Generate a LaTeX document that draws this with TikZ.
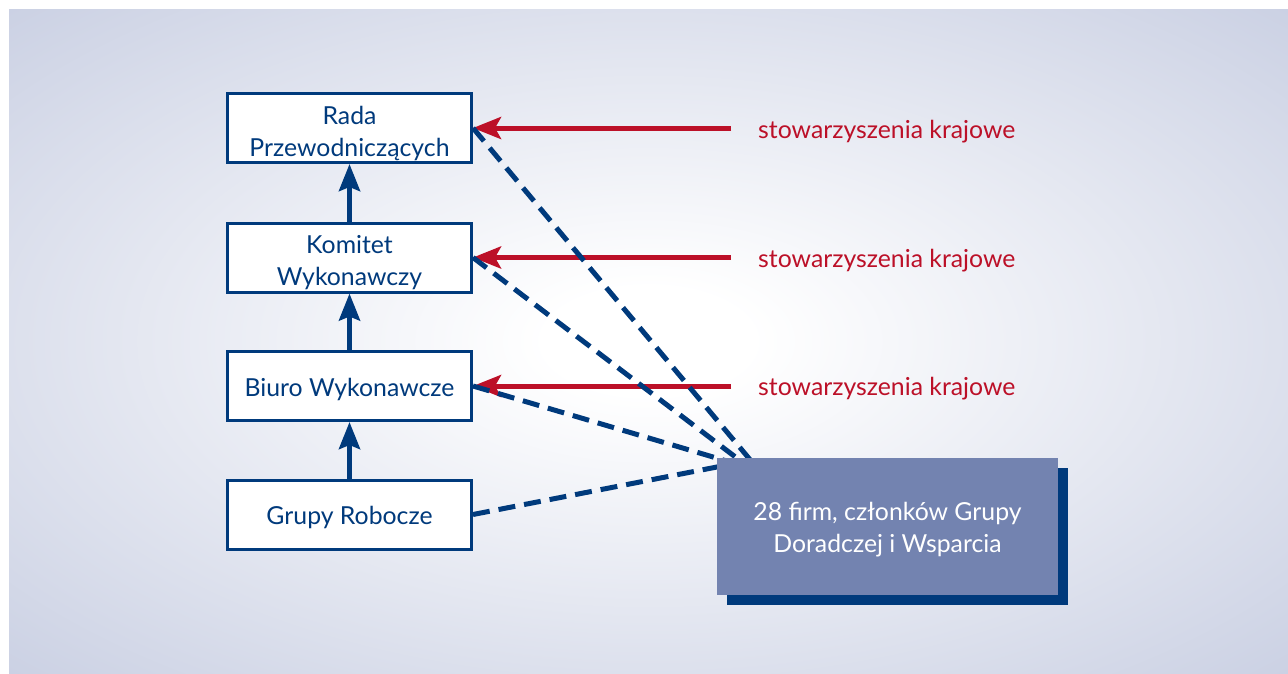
\documentclass[tikz,border=0pt]{standalone}
\usepackage{fontspec}
\setmainfont{Lato}
\usetikzlibrary{arrows.meta,calc,shadows}

\definecolor{navy}{RGB}{0,58,124}
\definecolor{crimson}{RGB}{188,16,40}
\definecolor{slate}{RGB}{115,131,176}
\definecolor{bgedge}{RGB}{202,208,227}

% soft glow behind the chart: white in the middle, blue-grey towards the corners
\pgfdeclareradialshading{bgglow}{\pgfpoint{0bp}{0bp}}{%
  color(0bp)=(white); color(4bp)=(white); color(36bp)=(bgedge); color(50bp)=(bgedge)}

\tikzset{
  orgbox/.style={draw=navy, line width=3pt, fill=white, minimum width=244pt,
    minimum height=69pt, inner sep=0pt},
  orgtext/.style={text=navy, align=center, font=\fontsize{24.8}{32}\selectfont, inner sep=0pt},
  uplink/.style={draw=navy, line width=5pt, -{Stealth[length=27pt, width=21pt, inset=4pt]}},
  assoc/.style={text=crimson, font=\fontsize{24.8}{32}\selectfont, inner sep=0pt, anchor=base west},
  assocarrow/.style={draw=crimson, line width=5pt, -{Stealth[length=28pt, width=22pt, inset=6pt]}},
  advisory/.style={draw=navy, line width=5pt, dash pattern=on 17pt off 9pt},
  firmbox/.style={fill=slate, minimum width=341pt, minimum height=137pt, inner sep=0pt,
    drop shadow={shadow xshift=10pt, shadow yshift=-10pt, fill=navy, opacity=1}},
  firmtext/.style={text=white, align=center, font=\fontsize{24.8}{32}\selectfont, inner sep=0pt},
}

\begin{document}
\begin{tikzpicture}[x=1pt, y=-1pt]
\useasboundingbox (0,0) rectangle (1288,673);
\shade[shading=bgglow] (9,9) rectangle (1288,673);

% governance chain
\node[orgbox, label={[orgtext, yshift=-5pt]center:Rada\\Przewodniczących}] (rada) at (349.5,128) {};
\node[orgbox, label={[orgtext, yshift=-5pt]center:Komitet\\Wykonawczy}] (komitet) at (349.5,257.5) {};
\node[orgbox, label={[orgtext, yshift=-3pt]center:Biuro Wykonawcze}] (biuro) at (349.5,386) {};
\node[orgbox, label={[orgtext, yshift=-3pt]center:Grupy Robocze}] (grupy) at (349.5,514.5) {};

\draw[uplink] (komitet.north) -- (rada.south);
\draw[uplink] (biuro.north) -- (komitet.south);
\draw[uplink] (grupy.north) -- (biuro.south);

% national associations
\node[assoc] (assoc1) at (758,138) {stowarzyszenia krajowe};
\node[assoc] (assoc2) at (758,267) {stowarzyszenia krajowe};
\node[assoc] (assoc3) at (758,395) {stowarzyszenia krajowe};

\draw[assocarrow] ([xshift=-27pt]assoc1.west |- rada.east) -- (rada.east);
\draw[assocarrow] ([xshift=-27pt]assoc2.west |- komitet.east) -- (komitet.east);
\draw[assocarrow] ([xshift=-27pt]assoc3.west |- biuro.east) -- (biuro.east);

% advisory links, ending under the firms box
\coordinate (hubA) at (752,462);
\coordinate (hubB) at (742,462);
\coordinate (hubC) at (730,462);
\coordinate (hubD) at (722,466);
\draw[advisory] (rada.east) -- (hubA);
\draw[advisory] (komitet.east) -- (hubB);
\draw[advisory] (biuro.east) -- (hubC);
\draw[advisory] (grupy.east) -- (hubD);

\node[firmbox, label={[firmtext, yshift=-3pt]center:28 firm, członków Grupy\\Doradczej i Wsparcia}] (firms) at (887.5,526.5) {};
\end{tikzpicture}
\end{document}
